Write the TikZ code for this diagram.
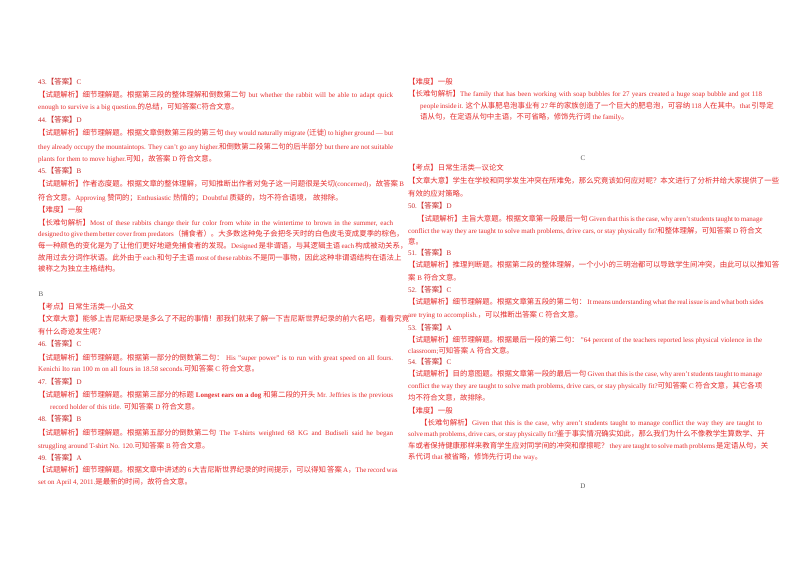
\documentclass[tikz,border=0pt]{standalone}
\usepackage{fontspec}
\setmainfont{Liberation Serif}
\newfontfamily\zh[Scale=1.06]{Noto Sans CJK SC}
\newcommand\zz[1]{{\zh #1}}
\definecolor{txtred}{RGB}{230,45,45}
\definecolor{ansred}{RGB}{200,40,40}
\definecolor{secgray}{RGB}{90,90,90}
\newcounter{lnno}
\tikzset{tline/.style={anchor=base west,inner sep=0pt,text=txtred,font=\fontsize{7}{8}\selectfont}}
\newcommand\rowJ[4]{\stepcounter{lnno}\node[tline] (l\arabic{lnno}) at (#1,#2) {\makebox[#3pt][s]{#4}};}
\newcommand\rowN[3]{\stepcounter{lnno}\node[tline] (l\arabic{lnno}) at (#1,#2) {#3};}
\newcommand\ans[4]{\stepcounter{lnno}\node[tline,text=ansred] (l\arabic{lnno}) at (#1,#2) {#3.\zz{【答案】}#4};}
\newcommand\sect[3]{\stepcounter{lnno}\node[tline,text=secgray,anchor=base] (l\arabic{lnno}) at (#1,#2) {#3};}
\begin{document}
\begin{tikzpicture}[x=1pt,y=-1pt]
\useasboundingbox (0,0) rectangle (800,566);
\fill[white] (0,0) rectangle (800,566);
% left column
\def\a{38}\def\w{355}
\ans{\a}{84}{43}{C}
\rowJ{\a}{97}{\w}{\zz{【试题解析】细节理解题。根据第三段的整体理解和倒数第二句} but whether the rabbit will be able to adapt quick}
\rowN{\a}{109}{enough to survive is a big question.\zz{的总结，可知答案}C\zz{符合文意。}}
\ans{\a}{122}{44}{D}
\rowJ{\a}{135}{\w}{\zz{【试题解析】细节理解题。根据文章倒数第三段的第三句} they would naturally migrate \zz{(迁徙)} to higher ground — but}
\rowJ{\a}{149}{\w}{they already occupy the mountaintops. They can't go any higher.\zz{和倒数第二段第二句的后半部分} but there are not suitable}
\rowN{\a}{161}{plants for them to move higher.\zz{可知，故答案} D \zz{符合文意。}}
\ans{\a}{173}{45}{B}
\rowJ{\a}{186}{\w}{\zz{【试题解析】作者态度题。根据文章的整体理解，可知推断出作者对兔子这一问题很是关切}(concerned)\zz{，故答案} B}
\rowN{\a}{200}{\zz{符合文意。}Approving \zz{赞同的；}Enthusiastic \zz{热情的；}Doubtful \zz{质疑的，均不符合语境，}\ \zz{故排除。}}
\rowN{\a}{212}{\zz{【难度】一般}}
\rowJ{\a}{225}{\w}{\zz{【长难句解析】}Most of these rabbits change their fur color from white in the wintertime to brown in the summer, each}
\rowJ{\a}{236}{\w}{designed to give them better cover from predators\zz{（捕食者）。大多数这种兔子会把冬天时的白色皮毛变成夏季的棕色，}}
\rowJ{\a}{248}{\w}{\zz{每一种颜色的变化是为了让他们更好地避免捕食者的发现。}Designed \zz{是非谓语，与其逻辑主语} each \zz{构成被动关系，}}
\rowJ{\a}{260}{\w}{\zz{故用过去分词作状语。此外由于} each \zz{和句子主语} most of these rabbits \zz{不是同一事物，因此这种非谓语结构在语法上}}
\rowN{\a}{271}{\zz{被称之为独立主格结构。}}
\sect{41}{296}{B}
\rowN{\a}{309}{\zz{【考点】日常生活类—小品文}}
\rowN{\a}{321}{\zz{【文章大意】能够上吉尼斯纪录是多么了不起的事情！那我们就来了解一下吉尼斯世界纪录的前六名吧，看看究竟}}
\rowN{\a}{334}{\zz{有什么奇迹发生呢?}}
\ans{\a}{346}{46}{C}
\rowJ{\a}{360}{\w}{\zz{【试题解析】细节理解题。根据第一部分的倒数第二句：} His "super power" is to run with great speed on all fours.}
\rowN{\a}{371}{Kenichi Ito ran 100 m on all fours in 18.58 seconds.\zz{可知答案} C \zz{符合文意。}}
\ans{\a}{384}{47}{D}
\rowJ{\a}{397}{\w}{\zz{【试题解析】细节理解题。根据第三部分的标题} \textbf{Longest ears on a dog} \zz{和第二段的开头} Mr. Jeffries is the previous}
\rowN{50}{409}{record holder of this title. \zz{可知答案} D \zz{符合文意。}}
\ans{\a}{421}{48}{B}
\rowJ{\a}{435}{\w}{\zz{【试题解析】细节理解题。根据第五部分的倒数第二句} The T-shirts weighted 68 KG and Budiseli said he began}
\rowN{\a}{448}{struggling around T-shirt No. 120.\zz{可知答案} B \zz{符合文意。}}
\ans{\a}{460}{49}{A}
\rowJ{\a}{472}{\w}{\zz{【试题解析】细节理解题。根据文章中讲述的} 6 \zz{大吉尼斯世界纪录的时间提示，可以得知} \zz{答案} A\zz{，}The record was}
\rowN{\a}{484}{set on April 4, 2011.\zz{是最新的时间，故符合文意。}}
% right column
\def\b{408}\def\v{354}
\rowN{\b}{84}{\zz{【难度】一般}}
\rowJ{\b}{96}{\v}{\zz{【长难句解析】}The family that has been working with soap bubbles for 27 years created a huge soap bubble and got 118}
\rowJ{420}{108}{342}{people inside it. \zz{这个从事肥皂泡事业有} 27 \zz{年的家族创造了一个巨大的肥皂泡，可容纳} 118 \zz{人在其中。}that \zz{引导定}}
\rowN{420}{119}{\zz{语从句，在定语从句中主语，不可省略，修饰先行词} the family\zz{。}}
\sect{583}{160}{C}
\rowN{\b}{170}{\zz{【考点】日常生活类—议论文}}
\rowN{\b}{183}{\zz{【文章大意】学生在学校和同学发生冲突在所难免，那么究竟该如何应对呢？本文进行了分析并给大家提供了一些}}
\rowN{\b}{196}{\zz{有效的应对策略。}}
\ans{\b}{208}{50}{D}
\rowJ{417}{221}{345}{\zz{【试题解析】主旨大意题。根据文章第一段最后一句} Given that this is the case, why aren't students taught to manage}
\rowJ{\b}{233}{\v}{conflict the way they are taught to solve math problems, drive cars, or stay physically fit?\zz{和整体理解，可知答案} D \zz{符合文}}
\rowN{\b}{244}{\zz{意。}}
\ans{\b}{255}{51}{B}
\rowN{\b}{267}{\zz{【试题解析】推理判断题。根据第二段的整体理解，一个小小的三明治都可以导致学生间冲突，由此可以以推知答}}
\rowN{\b}{280}{\zz{案} B \zz{符合文意。}}
\ans{\b}{292}{52}{C}
\rowJ{\b}{304}{\v}{\zz{【试题解析】细节理解题。根据文章第五段的第二句：} It means understanding what the real issue is and what both sides}
\rowN{\b}{317}{are trying to accomplish.\zz{，可以推断出答案} C \zz{符合文意。}}
\ans{\b}{330}{53}{A}
\rowJ{\b}{342}{\v}{\zz{【试题解析】细节理解题。根据最后一段的第二句：} "64 percent of the teachers reported less physical violence in the}
\rowN{\b}{353}{classroom;\zz{可知答案} A \zz{符合文意。}}
\ans{\b}{364}{54}{C}
\rowJ{\b}{376}{\v}{\zz{【试题解析】目的意图题。根据文章第一段的最后一句} Given that this is the case, why aren't students taught to manage}
\rowJ{\b}{388}{\v}{conflict the way they are taught to solve math problems, drive cars, or stay physically fit?\zz{可知答案} C \zz{符合文意，其它各项}}
\rowN{\b}{400}{\zz{均不符合文意，故排除。}}
\rowN{\b}{413}{\zz{【难度】一般}}
\rowJ{420}{425}{342}{\zz{【长难句解析】}Given that this is the case, why aren't students taught to manage conflict the way they are taught to}
\rowJ{\b}{436}{\v}{solve math problems, drive cars, or stay physically fit?\zz{鉴于事实情况确实如此，那么我们为什么不像教学生算数学、开}}
\rowJ{\b}{448}{\v}{\zz{车或者保持健康那样来教育学生应对同学间的冲突和摩擦呢？} they are taught to solve math problems \zz{是定语从句，关}}
\rowN{\b}{459}{\zz{系代词} that \zz{被省略，修饰先行词} the way\zz{。}}
\sect{583}{488}{D}
\end{tikzpicture}
\end{document}
